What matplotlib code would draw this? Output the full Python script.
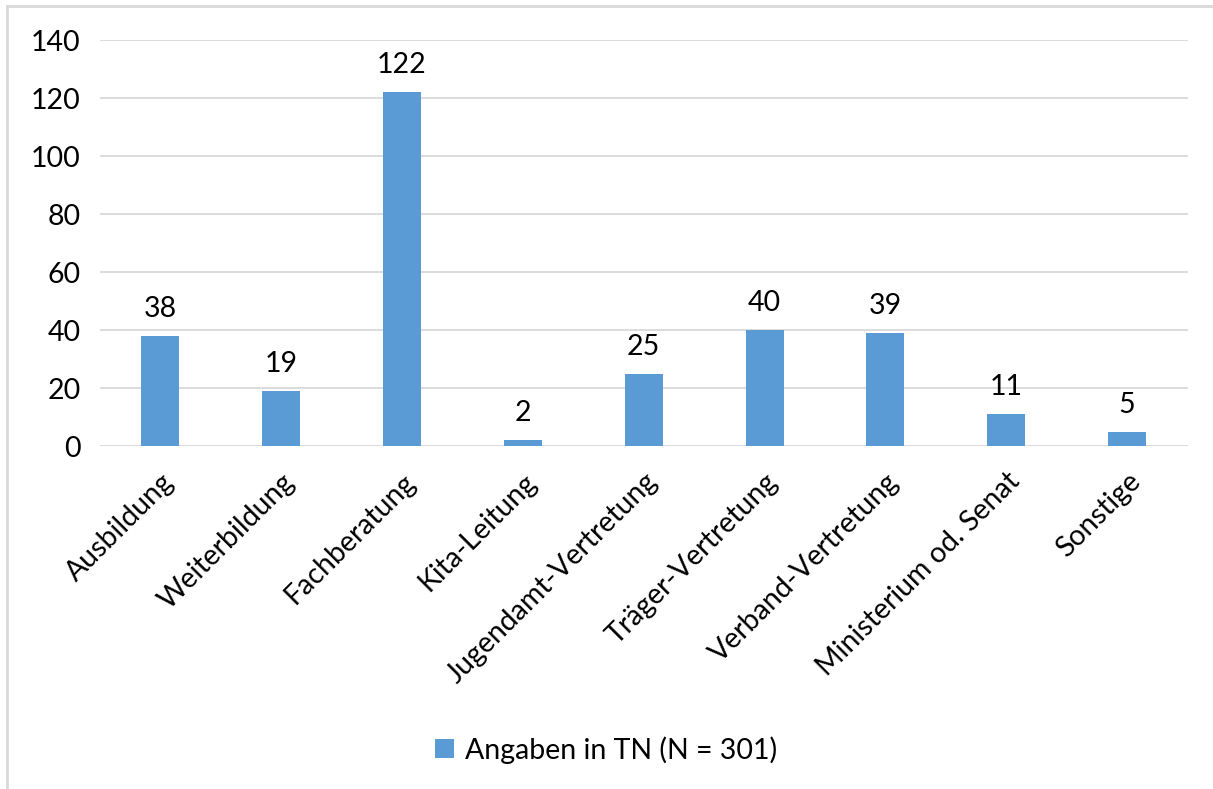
import matplotlib.pyplot as plt
from matplotlib.lines import Line2D
from matplotlib.patches import Patch

plt.rcParams['font.family'] = ['Lato', 'DejaVu Sans']

# categories and counts (Angaben in TN, N = 301)
categories = ["Ausbildung", "Weiterbildung", "Fachberatung", "Kita-Leitung",
              "Jugendamt-Vertretung", "Träger-Vertretung", "Verband-Vertretung",
              "Ministerium od. Senat", "Sonstige"]
values = [38, 19, 122, 2, 25, 40, 39, 11, 5]
yticks = [0, 20, 40, 60, 80, 100, 120, 140]

bar_color = "#5B9BD5"
grid_color = "#D9D9D9"
fs = 20.5

fig = plt.figure(figsize=(12.13, 7.89), dpi=100)
ax = fig.add_axes([0.0824, 0.4347, 0.8966, 0.5146])

x = list(range(len(categories)))
ax.bar(x, values, width=0.315, color=bar_color, zorder=3)

# value labels above the bars
for xi, v in zip(x, values):
    ax.annotate(str(v), (xi, v), xytext=(0, 10), textcoords="offset points",
                ha="center", va="bottom", fontsize=fs, color="black")

ax.set_xlim(-0.5, len(categories) - 0.5)
ax.set_ylim(0, 140)
ax.set_yticks(yticks)
ax.set_yticklabels([str(t) for t in yticks], fontsize=fs)
ax.yaxis.grid(True, color=grid_color, linewidth=1.3, zorder=0)
ax.set_axisbelow(True)

ax.set_xticks(x)
ax.set_xticklabels(categories, rotation=45, ha="right", rotation_mode="anchor",
                   fontsize=fs)
ax.tick_params(axis="y", length=0, pad=14)
ax.tick_params(axis="x", length=0, pad=16)

for s in ax.spines.values():
    s.set_visible(False)

# legend below the plot
handle = Patch(facecolor=bar_color, edgecolor="none")
fig.legend([handle], ["Angaben in TN (N = 301)"], loc="center",
           bbox_to_anchor=(0.5, 1 - 750 / 789), frameon=False, fontsize=fs,
           handlelength=0.65, handleheight=0.65, handletextpad=0.4)

# light chart border (top and left visible)
fig.add_artist(Line2D([7 / 1213, 7 / 1213], [0, 1 - 6 / 789],
                      transform=fig.transFigure, color=grid_color, linewidth=2))
fig.add_artist(Line2D([7 / 1213, 1], [1 - 6 / 789, 1 - 6 / 789],
                      transform=fig.transFigure, color=grid_color, linewidth=2))

fig.savefig("out.png", dpi=100, facecolor="white")
